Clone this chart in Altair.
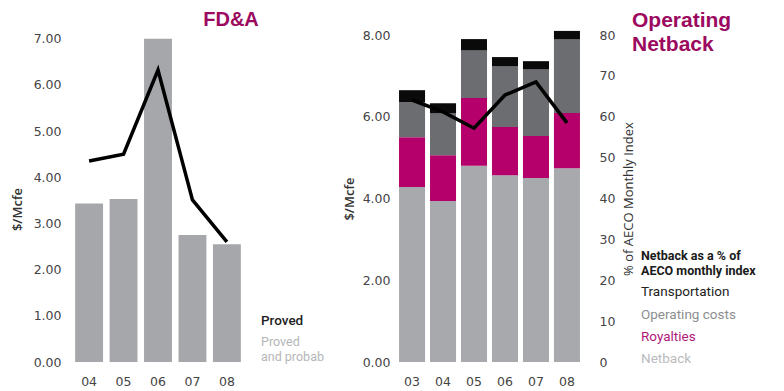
import altair as alt
import pandas as pd

# ---- FD&A panel ($/Mcfe) ----
fda_years = ["04", "05", "06", "07", "08"]
fda_proved_probable = [3.43, 3.53, 7.00, 2.75, 2.55]   # bars
fda_proved = [4.35, 4.50, 6.32, 3.51, 2.60]             # line

# ---- Operating netback panel ($/Mcfe, stacked) ----
nb_years = ["03", "04", "05", "06", "07", "08"]
netback = [4.28, 3.94, 4.80, 4.57, 4.50, 4.74]
royalties = [1.22, 1.12, 1.66, 1.18, 1.03, 1.35]
operating_costs = [0.86, 1.03, 1.17, 1.49, 1.63, 1.81]
transportation = [0.29, 0.24, 0.27, 0.22, 0.20, 0.20]
pct_aeco = [64.1, 61.2, 57.2, 65.3, 68.5, 58.5]         # line, right axis

segments = ["Netback", "Royalties", "Operating costs", "Transportation"]
seg_colors = ["#a7a9ac", "#b5006b", "#6b6d70", "#0a0a0a"]

MAGENTA_TITLE = "#9b0a5e"
TICK_FONT = "DejaVu Sans"
TEXT_FONT = "Open Sans"
LEGEND_FONT = "Roboto"
PLOT_H = 327

fda_df = pd.DataFrame({"year": fda_years, "pp": fda_proved_probable, "proved": fda_proved})

rows = []
for i, yr in enumerate(nb_years):
    for k, (seg, vals) in enumerate(zip(segments, [netback, royalties, operating_costs, transportation])):
        rows.append({"year": yr, "segment": seg, "seg_idx": k, "value": vals[i]})
stack_df = pd.DataFrame(rows)
pct_df = pd.DataFrame({"year": nb_years, "pct": pct_aeco})


def x_axis():
    return alt.Axis(title=None, labelAngle=0, ticks=False, tickSize=0, domain=False,
                    labelFont=TICK_FONT, labelFontSize=12.5, labelColor="#444",
                    labelPadding=13)


def label(text, x, y, size=13, color="#222", weight="normal", font=LEGEND_FONT, align="left"):
    return alt.Chart(alt.Data(values=[{}])).mark_text(
        text=text, align=align, baseline="middle", font=font, fontSize=size,
        color=color, fontWeight=weight
    ).encode(x=alt.value(x), y=alt.value(y))


# ---------------- left panel ----------------
fda_y_axis = alt.Axis(title="$/Mcfe", values=[0, 1, 2, 3, 4, 5, 6, 7], format=".2f",
                      grid=False, ticks=False, domain=False, labelPadding=10,
                      labelFont=TICK_FONT, labelFontSize=12.5, labelColor="#444",
                      titleFont=TEXT_FONT, titleFontSize=13, titleFontWeight=600,
                      titleColor="#333", titleX=-54, titleY=174, titleBaseline="middle",
                      titleAngle=270)
fda_x = alt.X("year:N", sort=fda_years, axis=x_axis(),
              scale=alt.Scale(paddingInner=0.19, paddingOuter=0.12))
fda_y_scale = alt.Scale(domain=[0, 7.08], nice=False, zero=True)

fda_bars = alt.Chart(fda_df).mark_bar(color="#a5a7aa").encode(
    x=fda_x, y=alt.Y("pp:Q", scale=fda_y_scale, axis=fda_y_axis)
)
fda_line = alt.Chart(fda_df).mark_line(color="#000000", strokeWidth=3.5).encode(
    x=fda_x, y=alt.Y("proved:Q", scale=fda_y_scale, axis=fda_y_axis)
)

left = alt.layer(
    fda_bars, fda_line,
    label("FD&A", 160, -15, size=20, color=MAGENTA_TITLE, weight="bold",
          font="Liberation Sans", align="center"),
    label("Proved", 190, 286, size=13.5, color="#222", weight=500),
    label("Proved", 190, 307, size=12.5, color="#b4b6b8"),
    label("and probab", 190, 322, size=12.5, color="#b4b6b8"),
).properties(width=174, height=PLOT_H)

# ---------------- right panel ----------------
nb_x = alt.X("year:N", sort=nb_years, axis=x_axis(),
             scale=alt.Scale(paddingInner=0.16, paddingOuter=0.13))

nb_bars = alt.Chart(stack_df).mark_bar().encode(
    x=nb_x,
    y=alt.Y("value:Q", stack="zero",
            scale=alt.Scale(domain=[0, 8], nice=False),
            axis=alt.Axis(title="$/Mcfe", values=[0, 2, 4, 6, 8], format=".2f",
                          grid=False, ticks=False, domain=False, labelPadding=5,
                          labelFont=TICK_FONT, labelFontSize=12.5, labelColor="#444",
                          titleFont=TEXT_FONT, titleFontSize=13, titleFontWeight=600,
                          titleColor="#333", titleX=-46, titleBaseline="middle",
                          titleAngle=270)),
    color=alt.Color("segment:N", scale=alt.Scale(domain=segments, range=seg_colors), legend=None),
    order=alt.Order("seg_idx:Q"),
)

nb_line = alt.Chart(pct_df).mark_line(color="#000000", strokeWidth=3.5).encode(
    x=nb_x,
    y=alt.Y("pct:Q", scale=alt.Scale(domain=[0, 80], nice=False),
            axis=alt.Axis(orient="right", title="% of AECO Monthly Index",
                          values=list(range(0, 81, 10)), format="d",
                          grid=False, ticks=False, domain=False, labelPadding=15,
                          labelFont=TICK_FONT, labelFontSize=12.5, labelColor="#444",
                          titleFont=TEXT_FONT, titleFontSize=13, titleFontWeight="normal",
                          titleColor="#333", titleX=44, titleBaseline="middle",
                          titleAngle=270)),
)

right = alt.layer(
    nb_bars, nb_line,
    label("Operating", 237, -14, size=21, color=MAGENTA_TITLE, weight="bold", font="Liberation Sans"),
    label("Netback", 237, 10, size=21, color=MAGENTA_TITLE, weight="bold", font="Liberation Sans"),
    label("Netback as a % of", 246, 221, size=12.5, color="#1a1a1a", weight="bold"),
    label("AECO monthly index", 246, 236, size=12.5, color="#1a1a1a", weight="bold"),
    label("Transportation", 246, 257, size=13.5, color="#222"),
    label("Operating costs", 246, 280, size=13.5, color="#8c8e90"),
    label("Royalties", 246, 302, size=13.5, color="#b0187a"),
    label("Netback", 246, 324, size=13.5, color="#b9bbbd"),
).resolve_scale(y="independent").properties(width=189, height=PLOT_H)

chart = alt.hconcat(left, right, spacing=150, bounds="flush").properties(
    padding={"left": 11, "top": 10, "right": 0, "bottom": 0},
    background="white",
).configure_view(stroke=None)

chart.save("out.html", embed_options={"renderer": "svg", "actions": False})
